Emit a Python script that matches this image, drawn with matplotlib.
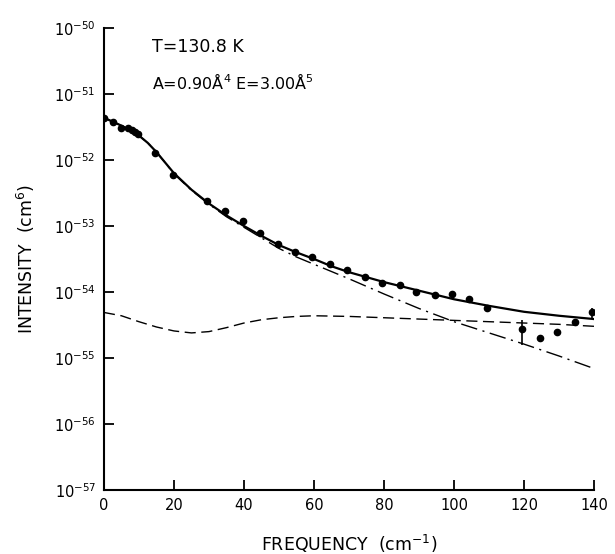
import numpy as np
import matplotlib
matplotlib.use("Agg")
from matplotlib import pyplot as plt

# measured points (frequency in cm^-1, log10 of intensity in cm^6)
pt_freq = [0, 2.5, 4.8, 6.8, 7.9, 8.9, 9.7, 14.7, 19.7, 29.5, 34.7, 39.8, 44.7,
           49.6, 54.5, 59.4, 64.6, 69.5, 74.6, 79.4, 84.5, 89.1, 94.5, 99.3,
           104.4, 109.3, 119.3, 124.5, 129.5, 134.6, 139.5]
pt_log = [-51.36, -51.43, -51.51, -51.52, -51.55, -51.58, -51.61, -51.90, -52.23,
          -52.62, -52.78, -52.92, -53.11, -53.28, -53.40, -53.47, -53.57, -53.67,
          -53.78, -53.86, -53.89, -54.00, -54.05, -54.03, -54.11, -54.25, -54.56,
          -54.70, -54.60, -54.45, -54.30]

# error bars (log10 low / high)
err_freq = [119.3, 139.5]
err_lo = [-54.80, -54.41]
err_hi = [-54.42, -54.24]

# total fit (solid)
fit_freq = [0, 2.5, 5, 7.5, 10, 12.5, 15, 17.5, 20, 25, 30, 35, 40, 45, 50, 55,
            60, 65, 70, 80, 90, 100, 110, 120, 130, 140]
fit_log = [-51.36, -51.42, -51.48, -51.55, -51.63, -51.74, -51.88, -52.04, -52.20,
           -52.45, -52.66, -52.84, -53.00, -53.15, -53.29, -53.40, -53.50, -53.61,
           -53.70, -53.85, -53.98, -54.11, -54.21, -54.30, -54.36, -54.41]

# dash-dot component
dd_log = [-51.36, -51.42, -51.48, -51.55, -51.63, -51.74, -51.88, -52.04, -52.21,
          -52.46, -52.67, -52.86, -53.02, -53.18, -53.34, -53.47, -53.58, -53.69,
          -53.80, -54.03, -54.25, -54.45, -54.62, -54.79, -54.97, -55.16]

# dashed component
dash_freq = [0, 5, 10, 15, 20, 25, 30, 35, 40, 45, 50, 55, 60, 70, 80, 90, 100,
             110, 120, 130, 140]
dash_log = [-54.31, -54.36, -54.45, -54.53, -54.59, -54.62, -54.60, -54.54, -54.47,
            -54.42, -54.39, -54.37, -54.36, -54.37, -54.39, -54.41, -54.43, -54.45,
            -54.47, -54.49, -54.52]

xticks = [0, 20, 40, 60, 80, 100, 120, 140]

fig = plt.figure(figsize=(6.15, 5.54), dpi=100)
ax = fig.add_axes([0.169, 0.1155, 0.797, 0.834])

ax.plot(fit_freq, 10.0 ** np.array(fit_log), color="black", lw=1.6)
ax.plot(fit_freq, 10.0 ** np.array(dd_log), color="black", lw=1.0,
        dashes=(12, 4, 1.5, 4))
ax.plot(dash_freq, 10.0 ** np.array(dash_log), color="black", lw=1.0,
        dashes=(8, 4))
ax.plot(pt_freq, 10.0 ** np.array(pt_log), "o", color="black", ms=4.5)

yv = 10.0 ** np.array([pt_log[pt_freq.index(f)] for f in err_freq])
lo = yv - 10.0 ** np.array(err_lo)
hi = 10.0 ** np.array(err_hi) - yv
ax.errorbar(err_freq, yv, yerr=[lo, hi], fmt="none", ecolor="black", elinewidth=1.2, capsize=0)

ax.set_yscale("log")
ax.set_xlim(0, 140)
ax.set_ylim(1e-57, 1e-50)
ax.set_xticks(xticks)
ax.set_yticks([10.0 ** e for e in range(-57, -49)])
ax.minorticks_off()
ax.tick_params(direction="in", length=7, width=1.3, labelsize=10.5, pad=6)
ax.spines["top"].set_visible(False)
ax.spines["right"].set_visible(False)
ax.spines["left"].set_linewidth(1.5)
ax.spines["bottom"].set_linewidth(1.5)

ax.set_xlabel(r"FREQUENCY  (cm$^{-1}$)", fontsize=12.5, labelpad=14)
ax.set_ylabel(r"INTENSITY  (cm$^{6}$)", fontsize=12.5, labelpad=12)

ax.text(13.7, 10 ** -50.29, "T=130.8 K", fontsize=12.5, va="center")
ax.text(13.7, 10 ** -50.82, r"A=0.90Å$^4$ E=3.00Å$^5$", fontsize=11.5, va="center")

fig.savefig("out.png", dpi=100)
